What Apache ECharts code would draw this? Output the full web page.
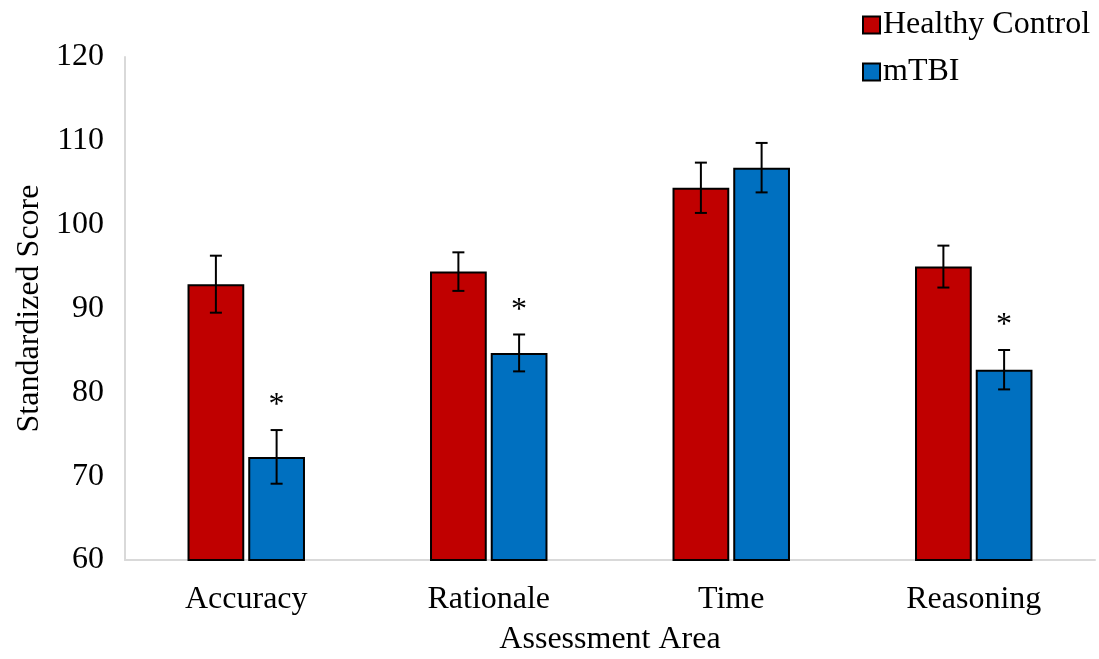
<!DOCTYPE html>
<html>
<head>
<meta charset="utf-8">
<script src="https://cdn.jsdelivr.net/npm/echarts@6/dist/echarts.min.js"></script>
<style>
  html, body { margin: 0; padding: 0; background: #fff; }
  #chart { width: 1099px; height: 659px; }
</style>
</head>
<body>
<div id="chart"></div>
<script>
// Mean standardized scores with standard-error bars per assessment area
const categories = ['Accuracy', 'Rationale', 'Time', 'Reasoning'];
const healthyMean = [92.9, 94.4, 104.4, 95.0];
const healthyErr = [3.4, 2.3, 3.0, 2.5];
const mtbiMean = [72.3, 84.7, 106.8, 82.7];
const mtbiErr = [3.2, 2.2, 2.95, 2.35];
const significance = ['*', '*', '', '*'];
const yTicks = [60, 70, 80, 90, 100, 110, 120];

const FONT = '"Liberation Serif", "Times New Roman", serif';
const FS = 32;
const BAR_FRAC = 0.234;   // bar width as share of the category band
const GAP_FRAC = 0.07;    // gap between the two bars, relative to bar width

function errorSeries(means, errs, side, marks) {
  return {
    type: 'custom',
    name: side < 0 ? 'hc-err' : 'mtbi-err',
    z: 10,
    silent: true,
    data: means.map((m, i) => [i, m, errs[i]]),
    renderItem: function (params, api) {
      const idx = api.value(0);
      const mean = api.value(1);
      const err = api.value(2);
      const band = api.size([1, 0])[0];
      const w = band * BAR_FRAC;
      const shift = side * (w + w * GAP_FRAC) / 2;
      const top = api.coord([idx, mean + err]);
      const bot = api.coord([idx, mean - err]);
      const x = top[0] + shift;
      const cap = 6;
      const style = { stroke: '#000', lineWidth: 2 };
      const children = [
        { type: 'line', shape: { x1: x, y1: top[1], x2: x, y2: bot[1] }, style },
        { type: 'line', shape: { x1: x - cap, y1: top[1], x2: x + cap, y2: top[1] }, style },
        { type: 'line', shape: { x1: x - cap, y1: bot[1], x2: x + cap, y2: bot[1] }, style }
      ];
      const mark = marks ? marks[params.dataIndex] : '';
      if (mark) {
        children.push({
          type: 'text',
          style: {
            text: mark, x: x, y: top[1] - 24,
            fill: '#000', font: FS + 'px ' + FONT,
            align: 'center', verticalAlign: 'middle'
          }
        });
      }
      return { type: 'group', children };
    }
  };
}

const chart = echarts.init(document.getElementById('chart'));
chart.setOption({
  animation: false,
  backgroundColor: '#fff',
  textStyle: { fontFamily: FONT, color: '#000' },
  legend: {
    orient: 'vertical',
    left: 857,
    top: 4,
    itemWidth: 17,
    itemHeight: 17,
    itemGap: 15,
    icon: 'rect',
    data: ['Healthy Control', 'mTBI'],
    textStyle: { fontFamily: FONT, fontSize: FS, color: '#000', padding: [0, 0, 0, -2] }
  },
  grid: { left: 125, right: 4, top: 57, bottom: 99, outerBoundsMode: 'none', containLabel: false },
  xAxis: {
    type: 'category',
    data: categories,
    name: 'Assessment Area',
    nameLocation: 'middle',
    nameGap: 64,
    nameTextStyle: { fontFamily: FONT, fontSize: FS, color: '#000' },
    axisLine: { show: true, lineStyle: { color: '#d9d9d9', width: 2 } },
    axisTick: { show: false },
    axisLabel: { fontFamily: FONT, fontSize: FS, color: '#000', margin: 24 }
  },
  yAxis: {
    type: 'value',
    min: yTicks[0],
    max: yTicks[yTicks.length - 1],
    interval: 10,
    name: 'Standardized Score',
    nameLocation: 'middle',
    nameGap: 79,
    nameTextStyle: { fontFamily: FONT, fontSize: FS, color: '#000' },
    axisLine: { show: true, lineStyle: { color: '#d9d9d9', width: 2 } },
    axisTick: { show: false },
    splitLine: { show: false },
    axisLabel: { fontFamily: FONT, fontSize: FS, color: '#000', margin: 21 }
  },
  series: [
    {
      name: 'Healthy Control',
      type: 'bar',
      data: healthyMean,
      barWidth: (BAR_FRAC * 100) + '%',
      barGap: (GAP_FRAC * 100) + '%',
      itemStyle: { color: '#C00000', borderColor: '#000', borderWidth: 2 }
    },
    {
      name: 'mTBI',
      type: 'bar',
      data: mtbiMean,
      barWidth: (BAR_FRAC * 100) + '%',
      barGap: (GAP_FRAC * 100) + '%',
      itemStyle: { color: '#0070C0', borderColor: '#000', borderWidth: 2 }
    },
    errorSeries(healthyMean, healthyErr, -1, null),
    errorSeries(mtbiMean, mtbiErr, 1, significance)
  ]
});
</script>
</body>
</html>
